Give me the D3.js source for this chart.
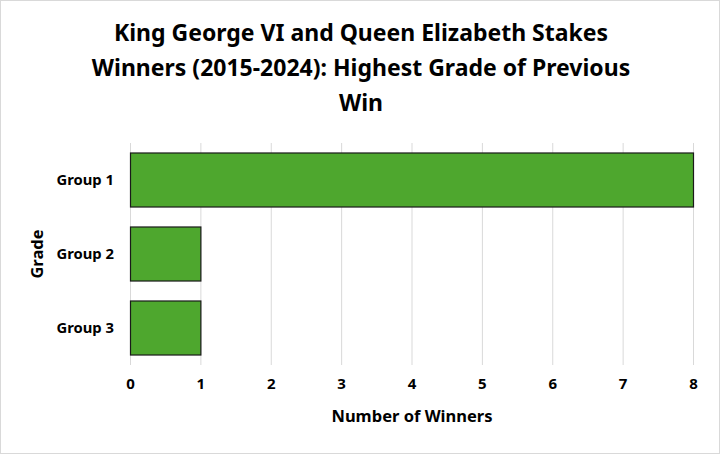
<!DOCTYPE html>
<html>
<head>
<meta charset="utf-8">
<script src="https://cdn.jsdelivr.net/npm/d3@7"></script>
<style>
  body { margin: 0; background: #fff; }
  svg { display: block; font-family: "Noto Sans", "Open Sans", sans-serif; }
</style>
</head>
<body>
<svg id="chart" width="720" height="454"></svg>
<script>
// data
const grades = ['Group 1', 'Group 2', 'Group 3'];
const winners = [8, 1, 1];
const xTicks = [0, 1, 2, 3, 4, 5, 6, 7, 8];
const titleLines = [
  'King George VI and Queen Elizabeth Stakes',
  'Winners (2015-2024): Highest Grade of Previous',
  'Win'
];

const svg = d3.select('#chart');
const width = 720, height = 454;
const margin = { top: 143, right: 27, bottom: 89, left: 130.5 };

// outer frame
svg.append('rect')
  .attr('x', 0.5).attr('y', 0.5)
  .attr('width', width - 1).attr('height', height - 1)
  .attr('fill', '#fff').attr('stroke', '#d9d9d9');

const x = d3.scaleLinear()
  .domain([0, 8])
  .range([margin.left, margin.left + 563]);

const y = d3.scaleBand()
  .domain(grades)
  .range([margin.top, height - margin.bottom])
  .paddingInner(0.27)
  .paddingOuter(0.135);

// gridlines
svg.append('g')
  .selectAll('line')
  .data(xTicks)
  .join('line')
  .attr('x1', d => x(d)).attr('x2', d => x(d))
  .attr('y1', margin.top).attr('y2', height - margin.bottom)
  .attr('stroke', '#d9d9d9').attr('stroke-width', 1);

// bars
svg.append('g')
  .selectAll('rect')
  .data(grades)
  .join('rect')
  .attr('x', x(0))
  .attr('y', d => y(d))
  .attr('width', (d, i) => x(winners[i]) - x(0))
  .attr('height', y.bandwidth())
  .attr('fill', '#4EA72E')
  .attr('stroke', '#1a1a1a')
  .attr('stroke-width', 1.2);

// x tick labels
svg.append('g')
  .selectAll('text')
  .data(xTicks)
  .join('text')
  .attr('x', d => x(d))
  .attr('y', 389)
  .attr('text-anchor', 'middle')
  .attr('font-size', 15).attr('font-weight', 'bold')
  .attr('fill', '#000')
  .text(d => d);

// y category labels
svg.append('g')
  .selectAll('text')
  .data(grades)
  .join('text')
  .attr('x', 114)
  .attr('y', d => y(d) + y.bandwidth() / 2)
  .attr('dy', '0.35em')
  .attr('text-anchor', 'end')
  .attr('font-size', 14.8).attr('font-weight', 'bold')
  .attr('fill', '#000')
  .text(d => d);

// axis titles
svg.append('text')
  .attr('x', x(4)).attr('y', 422)
  .attr('text-anchor', 'middle')
  .attr('font-size', 16.5).attr('font-weight', 'bold')
  .text('Number of Winners');

svg.append('text')
  .attr('transform', `translate(43, ${(margin.top + height - margin.bottom) / 2}) rotate(-90)`)
  .attr('text-anchor', 'middle')
  .attr('font-size', 16.5).attr('font-weight', 'bold')
  .text('Grade');

// title
svg.append('text')
  .attr('x', 361)
  .attr('text-anchor', 'middle')
  .attr('font-size', 23).attr('font-weight', 'bold')
  .selectAll('tspan')
  .data(titleLines)
  .join('tspan')
  .attr('x', 361)
  .attr('y', (d, i) => 41 + i * 35)
  .text(d => d);
</script>
</body>
</html>
